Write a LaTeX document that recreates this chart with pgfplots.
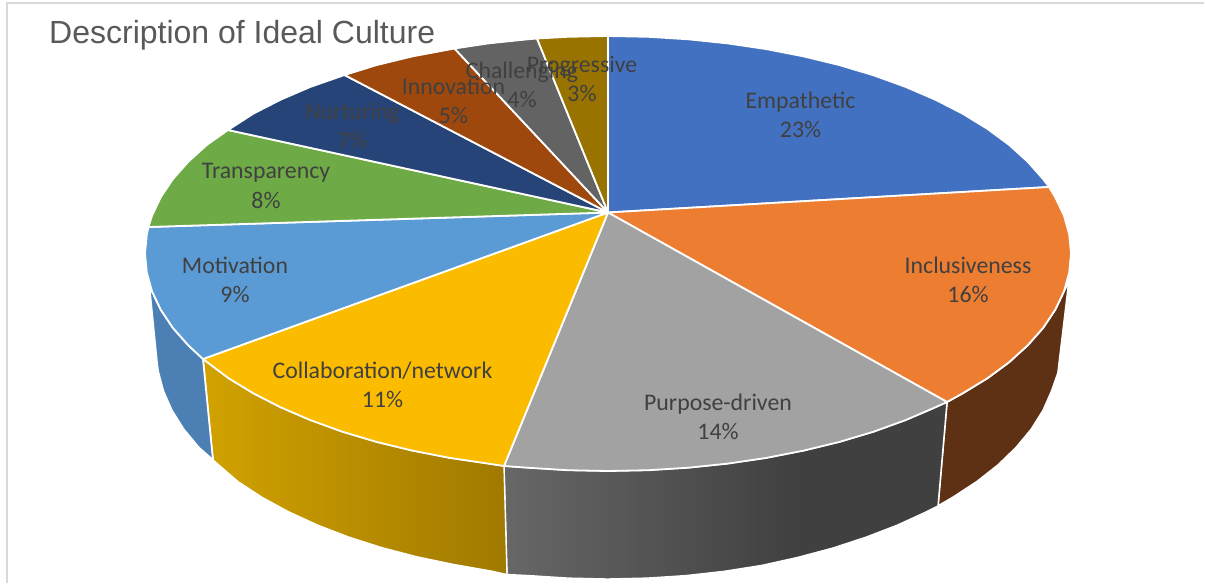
\documentclass[border=0pt]{standalone}
\usepackage{fontspec}
\setmainfont{Carlito}
\newfontfamily\titlefont{Liberation Sans}
\usepackage{pgfplots}
\pgfplotsset{compat=1.18}

\definecolor{cEmp}{HTML}{4371C2}
\definecolor{cInc}{HTML}{ED7D31}
\definecolor{cPur}{HTML}{A2A2A2}
\definecolor{cCol}{HTML}{FBBC00}
\definecolor{cMot}{HTML}{5B9BD5}
\definecolor{cTra}{HTML}{6EAB46}
\definecolor{cNur}{HTML}{264478}
\definecolor{cInn}{HTML}{9E480E}
\definecolor{cCha}{HTML}{636363}
\definecolor{cPro}{HTML}{997300}
\definecolor{cIncSide}{HTML}{5E3115}
\definecolor{cMotSide}{HTML}{4C80B5}
\definecolor{wallGreyA}{HTML}{676767}
\definecolor{wallGreyB}{HTML}{404040}
\definecolor{wallGoldA}{HTML}{D1A200}
\definecolor{wallGoldB}{HTML}{A07900}
\definecolor{labeltext}{HTML}{404040}
\definecolor{titletext}{HTML}{595959}
\definecolor{framecol}{HTML}{D9D9D9}

% Side walls darken from left to right
\pgfdeclarehorizontalshading{purposewall}{100bp}{
  color(0bp)=(wallGreyA); color(25bp)=(wallGreyA);
  color(58bp)=(wallGreyB); color(100bp)=(wallGreyB)}
\pgfdeclarehorizontalshading{collabwall}{100bp}{
  color(0bp)=(wallGoldA); color(25bp)=(wallGoldA);
  color(75bp)=(wallGoldB); color(100bp)=(wallGoldB)}

\tikzset{
  slice/.style={draw=white, line width=1.8pt, line join=round, fill=#1},
  lbl/.style={font=\fontsize{23.8}{29.5}\selectfont, text=labeltext, align=center, anchor=center, inner sep=0pt},
}

\begin{document}
\begin{tikzpicture}
\begin{axis}[
  scale only axis, width=1205pt, height=584pt,
  xmin=0, xmax=1205, ymin=0, ymax=584, y dir=reverse,
  hide axis, clip=true,
]
% the page spans the whole plotting area
\path (axis cs:0,0) rectangle (axis cs:1205,584);

% chart frame, kept just inside the page
\addplot[framecol, line width=1.6pt] coordinates {(7,583.2) (7,2.7) (1204.2,2.7)};

% side walls
\addplot[slice=cIncSide] coordinates {
 (1069,281) (1064,291.3) (1055.2,309.8) (1043.1,327.9) (1027.6,345.4) (1009,362.3)
 (987.3,378.3) (962.7,393.3) (947,402) (938,506) (953,497.3) (977,481.6) (998.1,465)
 (1016.2,447.5) (1031.3,429.3) (1043.1,410.5) (1051.6,391.2) (1058,373) (1069,281)};
\addplot[draw=white, line width=1.4pt, shading=purposewall] coordinates {
 (947,402) (935.4,407.3) (905.6,420.1) (873.6,431.7) (839.5,441.9) (803.7,450.6)
 (766.3,457.9) (727.8,463.6) (688.4,467.7) (648.4,470.2) (608,471) (567.6,470.2)
 (527.6,467.7) (504,466) (507,574.5) (529.2,575.6) (568.2,578.1) (607.5,579)
 (646.8,578.1) (685.8,575.6) (724.2,571.3) (761.7,565.4) (798.1,557.3) (833,548)
 (866.2,537.1) (897.4,525.1) (926.4,511.8) (938,506) (947,402)};
\addplot[draw=white, line width=1.4pt, shading=collabwall] coordinates {
 (504,466) (488.2,463.6) (449.7,457.9) (412.3,450.6) (376.5,441.9) (342.4,431.7)
 (310.4,420.1) (280.6,407.3) (253.3,393.3) (228.7,378.3) (203,359) (213,460)
 (238,481.6) (262,497.3) (288.6,511.8) (317.6,525.1) (348.8,537.1) (382,547.7)
 (416.9,556.8) (453.3,564.4) (490.8,571) (507,574.5) (504,466)};
\addplot[slice=cMotSide] coordinates {
 (203,359) (188.4,345.4) (172.9,327.9) (160.8,309.8) (152,291.3) (149,283) (157,363)
 (158.2,371.7) (163.4,391.2) (171.9,410.5) (183.7,429.3) (198.8,447.5) (213,460) (203,359)};

% top faces, clockwise from twelve o'clock
\addplot[slice=cEmp] coordinates {
 (608,212.5) (608,36) (648.4,36.8) (688.4,39.3) (727.8,43.4) (766.3,49.1) (803.7,56.4)
 (839.5,65.1) (873.6,75.3) (905.6,86.9) (935.4,99.7) (962.7,113.7) (987.3,128.8)
 (1009,144.8) (1027.6,161.6) (1043.1,179.1) (1049,187) (608,212.5)};
\addplot[slice=cInc] coordinates {
 (608,212.5) (1049,187) (1055.2,197.2) (1064,215.7) (1069.2,234.5) (1071,253.5)
 (1069.2,272.5) (1064,291.3) (1055.2,309.8) (1043.1,327.9) (1027.6,345.4) (1009,362.3)
 (987.3,378.3) (962.7,393.3) (947,402) (608,212.5)};
\addplot[slice=cPur] coordinates {
 (608,212.5) (947,402) (935.4,407.3) (905.6,420.1) (873.6,431.7) (839.5,441.9)
 (803.7,450.6) (766.3,457.9) (727.8,463.6) (688.4,467.7) (648.4,470.2) (608,471)
 (567.6,470.2) (527.6,467.7) (504,466) (608,212.5)};
\addplot[slice=cCol] coordinates {
 (608,212.5) (504,466) (488.2,463.6) (449.7,457.9) (412.3,450.6) (376.5,441.9)
 (342.4,431.7) (310.4,420.1) (280.6,407.3) (253.3,393.3) (228.7,378.3) (203,359) (608,212.5)};
\addplot[slice=cMot] coordinates {
 (608,212.5) (203,359) (188.4,345.4) (172.9,327.9) (160.8,309.8) (152,291.3)
 (146.8,272.5) (145,253.5) (146.8,234.5) (148.5,227) (608,212.5)};
\addplot[slice=cTra] coordinates {
 (608,212.5) (148.5,227) (152,215.7) (160.8,197.2) (172.9,179.1) (188.4,161.6)
 (207,144.8) (228,130) (608,212.5)};
\addplot[slice=cNur] coordinates {
 (608,212.5) (228,130) (253.3,113.7) (280.6,99.7) (310.4,86.9) (344.5,75) (608,212.5)};
\addplot[slice=cInn] coordinates {
 (608,212.5) (344.5,75) (376.5,65.1) (412.3,56.4) (454.5,48.5) (608,212.5)};
\addplot[slice=cCha] coordinates {
 (608,212.5) (454.5,48.5) (488.2,43.4) (527.6,39.3) (537,38.5) (608,212.5)};
\addplot[slice=cPro] coordinates {
 (608,212.5) (537,38.5) (567.6,36.8) (608,36) (608,212.5)};

% data labels
\node[lbl] at (axis cs:800.5,115) {Empathetic\\23\%};
\node[lbl] at (axis cs:968,280) {Inclusiveness\\16\%};
\node[lbl] at (axis cs:718,417) {Purpose-driven\\14\%};
\node[lbl] at (axis cs:382.5,385) {Collaboration/network\\11\%};
\node[lbl] at (axis cs:235,280) {Motivation\\9\%};
\node[lbl] at (axis cs:266,186) {Transparency\\8\%};
\node[lbl] at (axis cs:352.5,126) {Nurturing\\7\%};
\node[lbl] at (axis cs:453.5,101) {Innovation\\5\%};
\node[lbl] at (axis cs:522,85) {Challenging\\4\%};
\node[lbl] at (axis cs:582,79) {Progressive\\3\%};

% chart title
\node[anchor=west, inner sep=0pt, text=titletext, font=\titlefont\fontsize{32}{36}\selectfont]
  at (axis cs:49,35) {Description of Ideal Culture};
\end{axis}
\end{tikzpicture}
\end{document}
